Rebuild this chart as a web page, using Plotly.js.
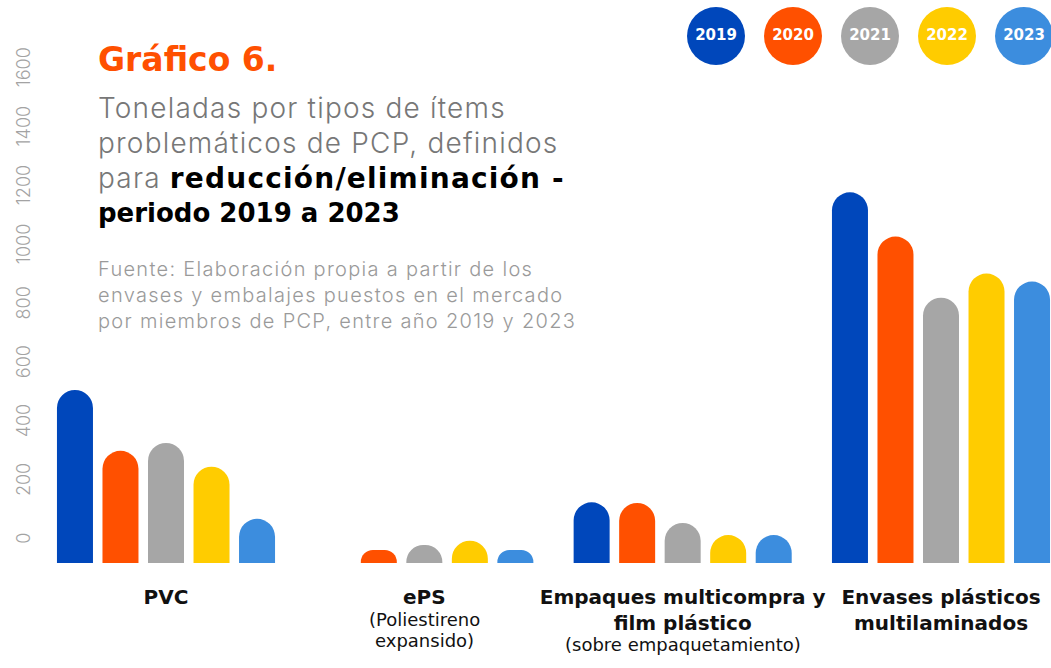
<!DOCTYPE html>
<html>
<head>
<meta charset="utf-8">
<script src="https://cdn.plot.ly/plotly-3.0.1.min.js"></script>
<style>html,body{margin:0;padding:0;background:#fff;}#chart{width:1051px;height:668px;}</style>
</head>
<body>
<div id="chart"></div>
<script>
// ---- data ----
const categories = ['PVC', 'ePS', 'Empaques', 'Envases'];
const catMainLabels = ['PVC', 'ePS', 'Empaques multicompra y<br>film plástico', 'Envases plásticos<br>multilaminados'];
const catSubLabels = ['', '(Poliestireno<br>expansido)', '(sobre empaquetamiento)', ''];
const years = ['2019', '2020', '2021', '2022', '2023'];
const colors = ['#0047BB', '#FF5000', '#A6A6A6', '#FFCC00', '#3C8DDE'];
const v2019 = [588, null, 206, 1259];
const v2020 = [381, 44, 204, 1109];
const v2021 = [408, 61, 136, 901];
const v2022 = [327, 76, 95, 983];
const v2023 = [150, 44, 95, 956];
const yTicks = [0, 200, 400, 600, 800, 1000, 1200, 1400, 1600];
const titleHead = 'Gráfico 6.';
const titleLines = [
  'Toneladas por tipos de ítems',
  'problemáticos de PCP, definidos',
  'para <b><span style="color:#000;font-family:DejaVu Sans;font-size:28px">reducción/eliminación -</span></b>',
  '<b><span style="color:#000;font-family:DejaVu Sans;font-size:26px;letter-spacing:0px">periodo 2019 a 2023</span></b>'
];
const sourceLines = [
  'Fuente: Elaboración propia a partir de los',
  'envases y embalajes puestos en el mercado',
  'por miembros de PCP, entre año 2019 y 2023'
];

// ---- layout geometry ----
const W = 1051, H = 668;
const mL = 45, mR = 0, mT = 0, mB = 105;
const plotH = H - mT - mB;
const py = p => 1 - (p - mT) / plotH;   // pixel y -> paper y
const px = p => (p - mL) / (W - mL - mR); // pixel x -> paper x

const series = [v2019, v2020, v2021, v2022, v2023];
const traces = series.map((vals, i) => ({
  type: 'bar',
  name: years[i],
  x: categories,
  y: vals,
  marker: {color: colors[i], line: {width: 0}},
  hoverinfo: 'none'
}));

// legend circles
traces.push({
  type: 'scatter',
  mode: 'markers+text',
  x: years,
  y: years.map(() => 0),
  xaxis: 'x2', yaxis: 'y2',
  text: years.map(y => '<b>' + y + '</b>'),
  textposition: 'middle center',
  textfont: {family: 'DejaVu Sans', size: 15, color: '#ffffff'},
  marker: {size: 58, color: colors, line: {width: 0}},
  hoverinfo: 'none',
  cliponaxis: false
});

const BOLD = 'DejaVu Sans';
const LIGHT = 'Inter';
const spaced = (t, s) => '<span style="letter-spacing:' + s + 'px">' + t + '</span>';
const annotations = [];
annotations.push({
  xref: 'paper', yref: 'paper', x: px(96), y: py(59), xanchor: 'left', yanchor: 'middle',
  text: '<b>' + titleHead + '</b>', showarrow: false,
  font: {family: BOLD, size: 33, color: '#FF5000'}
});
titleLines.forEach((t, i) => annotations.push({
  xref: 'paper', yref: 'paper', x: px(96), y: py(108 + i * 35), xanchor: 'left', yanchor: 'middle',
  text: spaced(t, 1.2), showarrow: false,
  font: {family: LIGHT, size: 28, color: '#777777', weight: 300}
}));
sourceLines.forEach((t, i) => annotations.push({
  xref: 'paper', yref: 'paper', x: px(96), y: py(269 + i * 26), xanchor: 'left', yanchor: 'middle',
  text: spaced(t, 1.3), showarrow: false,
  font: {family: LIGHT, size: 20, color: '#9a9a9a', weight: 300}
}));
const mainCenter = 597, mainStep = 25, subGap = 22, subStep = 21;
catSubLabels.forEach((t, i) => {
  if (!t) return;
  const nMain = catMainLabels[i].split('<br>').length;
  t.split('<br>').forEach((line, j) => annotations.push({
    xref: 'x', yref: 'paper', x: categories[i],
    y: py(mainCenter + (nMain - 1) * mainStep + subGap + j * subStep), xanchor: 'center', yanchor: 'middle',
    text: line, showarrow: false,
    font: {family: BOLD, size: 18, color: '#111'}
  }));
});

const catW = (941 - 166) / 3;
const layout = {
  width: W, height: H,
  margin: {l: mL, r: mR, t: mT, b: mB, pad: 0},
  paper_bgcolor: '#ffffff', plot_bgcolor: '#ffffff',
  showlegend: false,
  barmode: 'group',
  bargap: 0.119,
  bargroupgap: 0.209,
  barcornerradius: 18,
  font: {family: BOLD},
  xaxis: {
    type: 'category',
    range: [-(166 - mL) / catW, 3 + (W - mR - 941) / catW],
    tickvals: categories,
    ticktext: catMainLabels.map(s => '<b>' + s + '</b>'),
    tickfont: {family: BOLD, size: 20, color: '#111'},
    ticks: '', showgrid: false, zeroline: false, showline: false,
    ticklabelstandoff: 20,
    fixedrange: true
  },
  yaxis: {
    range: [0, plotH / 0.2944],
    tickvals: yTicks,
    ticktext: yTicks.map(String),
    tickangle: -90,
    tickfont: {family: LIGHT, size: 18, color: '#a3a3a3', weight: 300},
    ticklabelshift: -22,
    ticklabelstandoff: 10,
    ticks: '', showgrid: false, zeroline: false, showline: false,
    fixedrange: true
  },
  xaxis2: {
    type: 'category', domain: [px(677), 1], anchor: 'y2',
    range: [-(716 - 677) / 77, -(716 - 677) / 77 + (W - 677) / 77],
    visible: false, fixedrange: true
  },
  yaxis2: {
    domain: [py(72), 1], anchor: 'x2', range: [-1, 1],
    visible: false, fixedrange: true
  },
  annotations: annotations
};

Plotly.newPlot('chart', traces, layout, {displayModeBar: false, staticPlot: true});
</script>
</body>
</html>
